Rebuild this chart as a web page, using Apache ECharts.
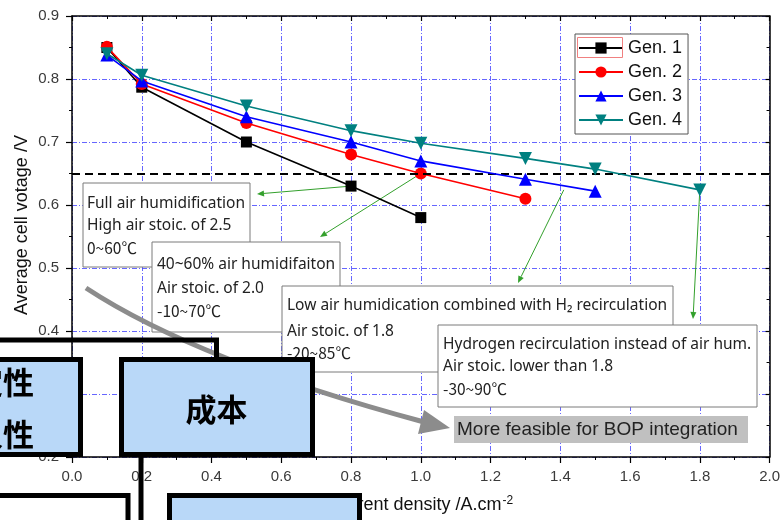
<!DOCTYPE html>
<html><head><meta charset="utf-8">
<script src="https://cdn.jsdelivr.net/npm/echarts@6/dist/echarts.min.js"></script>
<style>html,body{margin:0;padding:0;background:#fff}#c{width:783px;height:520px}</style>
</head><body><div id="c"></div>
<script>
// ---- data ----
const xValues = [0.1, 0.2, 0.5, 0.8, 1.0, 1.3, 1.5, 1.8];
const gen1 = [0.85, 0.787, 0.70, 0.63, 0.58];
const gen2 = [0.851, 0.792, 0.73, 0.68, 0.65, 0.61];
const gen3 = [0.838, 0.797, 0.74, 0.70, 0.67, 0.641, 0.622];
const gen4 = [0.84, 0.806, 0.757, 0.718, 0.698, 0.674, 0.657, 0.624];
const seriesNames = ['Gen. 1', 'Gen. 2', 'Gen. 3', 'Gen. 4'];
const thresholdVoltage = 0.65;
const xRange = [0, 2.0, 0.2];
const yRange = [0.2, 0.9, 0.1];
const xTitle = 'Current density /A.cm';
const xTitleSup = '-2';
const yTitle = 'Average cell votage /V';
const noteA = ['Full air humidification', 'High air stoic. of 2.5', '0~60℃'];
const noteB = ['40~60% air humidifaiton', 'Air stoic. of 2.0', '-10~70℃'];
const noteC = ['Low air humidication combined with H₂ recirculation', 'Air stoic. of 1.8', '-20~85℃'];
const noteD = ['Hydrogen recirculation instead of air hum.', 'Air stoic. lower than 1.8', '-30~90℃'];
const noteE = 'More feasible for BOP integration';
const cnCost = '成本';
const cnLeft = ['稳定性', '耐久性'];

// ---- chart ----
const chart = echarts.init(document.getElementById('c'), null, {renderer: 'canvas'});
const LAT = '"Liberation Sans", Arial, sans-serif';
const CJK = '"Noto Sans CJK SC", "Noto Sans", sans-serif';
const NOTE = '"Noto Sans", "Noto Sans CJK SC", sans-serif';
const colors = ['#000000', '#ff0000', '#0000ff', '#008080'];
const symbols = ['rect', 'circle', 'triangle', 'triangle'];
const symSizes = [11, 12, 13, 13];
const symRot = [0, 0, 0, 180];
const genData = [gen1, gen2, gen3, gen4];
const pairs = vals => vals.map((v, i) => [xValues[i], v]);
const gridLine = {show: true, lineStyle: {color: '#4b4bff', width: 1, type: [5, 2, 1, 2], opacity: 0.85}};
const tickFont = {fontFamily: LAT, fontSize: 15, color: '#3a3a3a'};
const frame = {show: true, onZero: false, lineStyle: {color: '#000', width: 1.5}};

const series = genData.map((vals, i) => ({
  name: seriesNames[i], type: 'line', data: pairs(vals),
  symbol: symbols[i], symbolSize: symSizes[i], symbolRotate: symRot[i],
  showAllSymbol: true, z: 3 + i,
  lineStyle: {color: colors[i], width: 1.6},
  itemStyle: {color: colors[i], borderWidth: 0},
  emphasis: {disabled: true}, animation: false
}));
series[0].markLine = {
  silent: true, symbol: ['none', 'none'], label: {show: false}, animation: false,
  lineStyle: {color: '#000', width: 2, type: [8, 5]},
  data: [{yAxis: thresholdVoltage}]
};

chart.setOption({
  backgroundColor: '#fff',
  animation: false,
  grid: {left: 72, right: 13, top: 16, bottom: 63},
  xAxis: [{
    type: 'value', min: xRange[0], max: xRange[1], interval: xRange[2], position: 'bottom',
    axisLine: frame,
    axisTick: {show: true, inside: false, length: 6, lineStyle: {color: '#000', width: 1.2}},
    minorTick: {show: true, splitNumber: 2, length: 3, lineStyle: {color: '#000', width: 1}},
    axisLabel: Object.assign({margin: 12, formatter: v => v.toFixed(1)}, tickFont),
    splitLine: gridLine,
    name: xTitle + '{sup|' + xTitleSup + '}', nameLocation: 'middle', nameGap: 38,
    nameTextStyle: {fontFamily: LAT, fontSize: 18, color: '#111',
      rich: {sup: {fontFamily: LAT, fontSize: 12, color: '#111', verticalAlign: 'top', padding: [0, 0, 8, 1]}}}
  }, {
    type: 'value', min: xRange[0], max: xRange[1], interval: xRange[2], position: 'top',
    axisLine: frame,
    axisTick: {show: true, inside: true, length: 5, lineStyle: {color: '#000', width: 1.2}},
    minorTick: {show: true, splitNumber: 2, length: 3, lineStyle: {color: '#000', width: 1}},
    axisLabel: {show: false}, splitLine: {show: false}
  }],
  yAxis: [{
    type: 'value', min: yRange[0], max: yRange[1], interval: yRange[2], position: 'left',
    axisLine: frame,
    axisTick: {show: true, inside: false, length: 6, lineStyle: {color: '#000', width: 1.2}},
    minorTick: {show: true, splitNumber: 2, length: 3, lineStyle: {color: '#000', width: 1}},
    axisLabel: Object.assign({margin: 13, formatter: v => v.toFixed(1)}, tickFont),
    splitLine: gridLine
  }, {
    type: 'value', min: yRange[0], max: yRange[1], interval: yRange[2], position: 'right',
    axisLine: frame,
    axisTick: {show: true, inside: true, length: 4, lineStyle: {color: '#000', width: 1.2}},
    minorTick: {show: true, splitNumber: 2, length: 3, lineStyle: {color: '#000', width: 1}},
    axisLabel: {show: false}, splitLine: {show: false}
  }],
  legend: {
    data: seriesNames, orient: 'vertical', left: 575, top: 34,
    padding: [5, 6, 5, 3], itemGap: 6, itemWidth: 44, itemHeight: 14,
    backgroundColor: '#fff', borderColor: '#555', borderWidth: 1, borderRadius: 0,
    selectedMode: false,
    textStyle: {fontFamily: LAT, fontSize: 18, color: '#111'}
  },
  series: series
});

// ---- overlays ----
const px = (x, y) => chart.convertToPixel({seriesIndex: 0}, [x, y]);
const G = [];
const GREEN = '#33a02c';
function arrow(s, e, color, lw, headLen, headW, z) {
  const dx = e[0] - s[0], dy = e[1] - s[1], L = Math.hypot(dx, dy);
  const ux = dx / L, uy = dy / L;
  const bx = e[0] - ux * headLen, by = e[1] - uy * headLen;
  G.push({type: 'line', z: z, silent: true, shape: {x1: s[0], y1: s[1], x2: bx, y2: by},
    style: {stroke: color, lineWidth: lw}});
  G.push({type: 'polygon', z: z, silent: true, shape: {points: [e,
    [bx - uy * headW, by + ux * headW], [bx + uy * headW, by - ux * headW]]},
    style: {fill: color}});
}
arrow(px(0.8, gen1[3]), [257, 194], GREEN, 1, 7, 3, 1);
arrow(px(1.0, gen2[4]), [320, 237], GREEN, 1, 7, 3, 1);
arrow(px(1.41, 0.624), [518, 283], GREEN, 1, 7, 3, 1);
arrow(px(1.8, gen4[7]), [693, 319], GREEN, 1, 7, 3, 1);

function note(x, y, w, h, lines, ys, tx, z) {
  G.push({type: 'rect', z: z, silent: true, shape: {x: x, y: y, width: w, height: h},
    style: {fill: '#fff', stroke: '#7a7a7a', lineWidth: 1}});
  lines.forEach((t, i) => G.push({type: 'text', z: z, silent: true, x: tx, y: ys[i],
    style: {text: t, fill: '#222', font: (i === 2 ? '15.5px ' + CJK : '15.5px ' + NOTE),
      textAlign: 'left', textVerticalAlign: 'middle'}}));
}
note(83, 183, 167, 84, noteA, [204, 226, 248], 87, 20);
note(152, 242, 188, 90, noteB, [265, 289, 311], 157, 21);
note(282, 286, 391, 86, noteC, [306, 332, 353], 287, 22);
note(438, 325, 319, 82, noteD, [345, 367, 389], 443, 23);
G.push({type: 'rect', z: 24, silent: true, shape: {x: 454, y: 416, width: 294, height: 27},
  style: {fill: '#c0c0c0'}});
G.push({type: 'text', z: 24, silent: true, x: 457, y: 430,
  style: {text: noteE, fill: '#222', font: '19px ' + LAT, textAlign: 'left', textVerticalAlign: 'middle'}});

// gray curved arrow
G.push({type: 'bezierCurve', z: 25, silent: true,
  shape: {x1: 86, y1: 288, x2: 424, y2: 422, cpx1: 197, cpy1: 361},
  style: {stroke: '#8c8c8c', lineWidth: 5, fill: null}});
G.push({type: 'polygon', z: 25, silent: true, shape: {points: [[450, 428], [424, 410], [418, 434]]},
  style: {fill: '#8c8c8c'}});

// legend selection frame
G.push({type: 'rect', z: 30, silent: true, shape: {x: 577.5, y: 37.5, width: 45, height: 20},
  style: {fill: null, stroke: '#f08080', lineWidth: 1}});

// y title
G.push({type: 'text', z: 30, silent: true, x: 22, y: 225, rotation: Math.PI / 2,
  style: {text: yTitle, fill: '#111', font: '18px ' + LAT, textAlign: 'center', textVerticalAlign: 'middle'}});

// Chinese overlay boxes
const BLUE = '#b9d8f8';
const box = (x, y, w, h, fill, z) => G.push({type: 'rect', z: z, silent: true,
  shape: {x: x, y: y, width: w, height: h}, style: {fill: fill, stroke: '#000', lineWidth: 5}});
G.push({type: 'polyline', z: 40, silent: true, shape: {points: [[-20, 340], [216.5, 340], [216.5, 370]]},
  style: {stroke: '#000', lineWidth: 5, fill: null, lineJoin: 'miter'}});
box(-20, 359.5, 100.5, 95, BLUE, 41);
box(121.5, 359.5, 191, 95, BLUE, 41);
G.push({type: 'line', z: 41, silent: true, shape: {x1: 141, y1: 454, x2: 141, y2: 540},
  style: {stroke: '#000', lineWidth: 5}});
box(-20, 495.5, 148, 60, '#fff', 41);
box(169.5, 495.5, 190, 60, BLUE, 41);
G.push({type: 'text', z: 42, silent: true, x: 216.5, y: 409,
  style: {text: cnCost, fill: '#000', font: 'bold 31px ' + CJK, textAlign: 'center', textVerticalAlign: 'middle'}});
G.push({type: 'text', z: 42, silent: true, x: 34, y: 382,
  style: {text: cnLeft[0], fill: '#000', font: 'bold 31px ' + CJK, textAlign: 'right', textVerticalAlign: 'middle'}});
G.push({type: 'text', z: 42, silent: true, x: 34, y: 434,
  style: {text: cnLeft[1], fill: '#000', font: 'bold 31px ' + CJK, textAlign: 'right', textVerticalAlign: 'middle'}});

chart.setOption({graphic: {elements: G}});
</script>
</body></html>
